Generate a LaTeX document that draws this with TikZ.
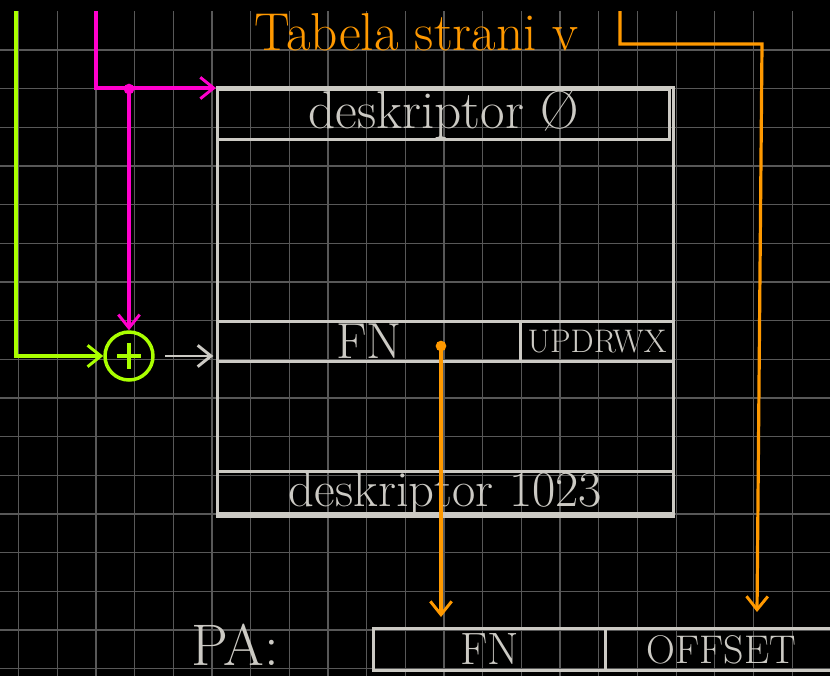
\documentclass[tikz,border=0pt]{standalone}
\usetikzlibrary{arrows.meta}

\definecolor{chalk}{RGB}{204,202,196}
\definecolor{penorange}{RGB}{255,153,0}
\definecolor{penlime}{RGB}{170,255,0}
\definecolor{penpink}{RGB}{255,0,204}
\definecolor{gridgray}{RGB}{88,88,88}

\newdimen\pxu \pxu=0.75pt

\tikzset{
  gridline/.style={draw=gridgray, line width=0.9pt},
  field/.style={draw=chalk, line width=2.2pt, rectangle, inner sep=0pt,
    anchor=north west, text=chalk},
  adder/.style={draw=penlime, line width=2.6pt, circle, inner sep=0pt,
    minimum size=48\pxu},
  pointer/.style={-{Straight Barb[length=10pt,width=16pt,line width=2.2pt]}},
  chalkpen/.style={draw=chalk, line width=2.2pt},
  orangepen/.style={draw=penorange, line width=2.4pt},
  limepen/.style={draw=penlime, line width=2.4pt},
  pinkpen/.style={draw=penpink, line width=2.8pt},
}

\begin{document}
\begin{tikzpicture}[x=0.75pt,y=0.75pt,yscale=-1,xscale=1]
\useasboundingbox (0,0) rectangle (830,676);
\fill[black] (0,0) rectangle (830,676);

%Grid
\foreach \k in {0,...,20}
  \draw[gridline] ({18.7+38.67*\k},11.3) -- ({18.7+38.67*\k},676);
\foreach \k in {1,...,17}
  \draw[gridline] (0,{11.3+38.67*\k}) -- (830,{11.3+38.67*\k});

%Shape: page table
\node[field, minimum width=456\pxu, minimum height=426\pxu] (table) at (216,86) {};
\node[field, minimum width=452\pxu, minimum height=40\pxu,
  font=\fontsize{40}{44}\selectfont] (row0) at (216,88) {deskriptor \O};
\node[field, minimum width=303\pxu, minimum height=40\pxu,
  font=\fontsize{38}{42}\selectfont] (rowFN) at (216,320) {FN};
\node[field, minimum width=153\pxu, minimum height=40\pxu,
  font=\fontsize{24.5}{28}\selectfont] (rowFlags) at (519,320) {UPDRWX};
\node[field, minimum width=456\pxu, minimum height=38\pxu,
  font=\fontsize{38}{42}\selectfont] (row1023) at (216,470) {deskriptor 1023};

%Shape: physical address
\node[field, minimum width=232\pxu, minimum height=42\pxu,
  font=\fontsize{34}{38}\selectfont] (paFN) at (372,627) {FN};
\node[field, minimum width=232\pxu, minimum height=42\pxu,
  font=\fontsize{30}{34}\selectfont] (paOffset) at (604,627) {OFFSET};

% Text Node
\node[text=chalk, font=\fontsize{44}{48}\selectfont] (paLabel) at (235,645) {PA:};
% Text Node
\node[text=penorange, font=\fontsize{40}{44}\selectfont, anchor=base west]
  (title) at (250,50) {Tabela strani v};

%Shape: adder
\node[adder] (add) at (129,356) {};
\draw[limepen] ([xshift=-9pt]add.center) -- ([xshift=9pt]add.center);
\draw[limepen] ([yshift=-10pt]add.center) -- ([yshift=10pt]add.center);

%Straight Lines: page table base
\coordinate (gTop) at (16,11);
\draw[limepen, pointer] (gTop) |- (add.west);

\coordinate (mTop) at (96,11);
\coordinate (mJoin) at (129,89);
\draw[pinkpen, pointer] (mTop) |- (row0.north west);
\fill[penpink] (mJoin) circle[radius=4pt];
\draw[pinkpen, pointer] (mJoin) -- (add.north);

%Straight Lines: index into table
\draw[chalkpen, pointer, shorten <=8pt, shorten >=2pt] (add.east) -- (add.east -| rowFN.west);

%Straight Lines: frame number and offset
\coordinate (fnDot) at (441,346);
\coordinate (fnTip) at (441,617);
\fill[penorange] (fnDot) circle[radius=4pt];
\draw[orangepen, pointer] (fnDot) -- (fnTip);

\coordinate (oTop) at (620,11);
\coordinate (oBend) at (762,44);
\coordinate (offTip) at (757,612);
\draw[orangepen, pointer] (oTop) |- (oBend) -- (offTip);

\end{tikzpicture}
\end{document}
